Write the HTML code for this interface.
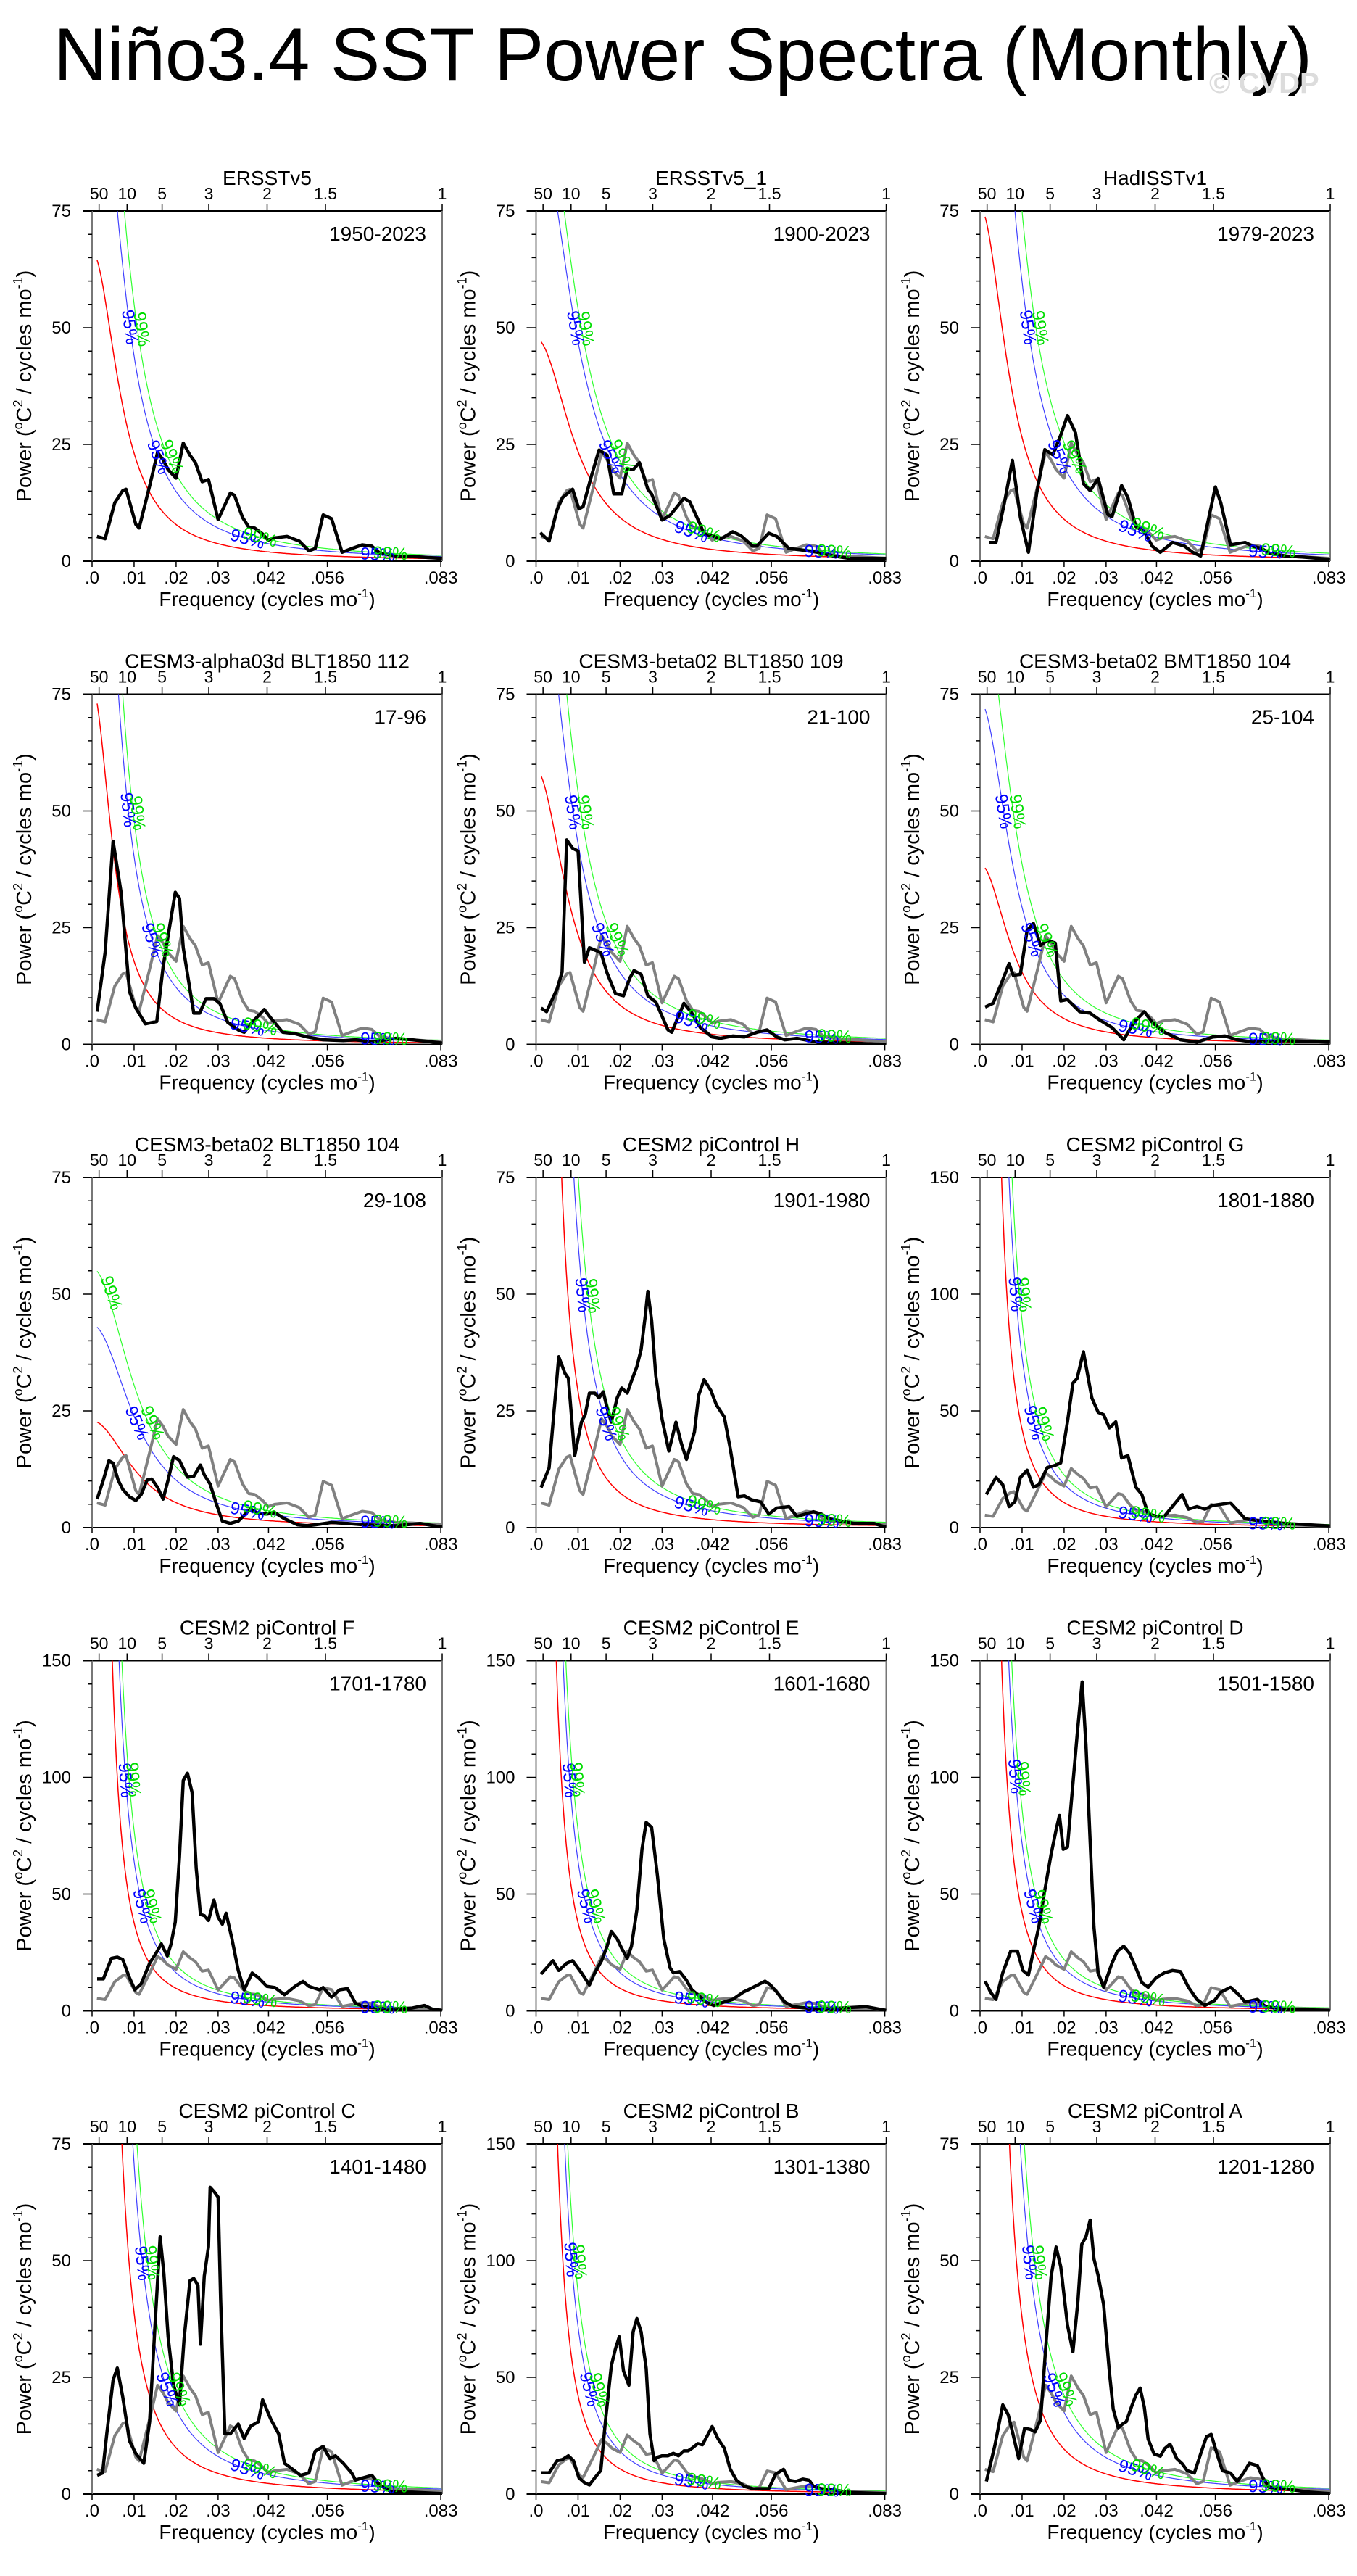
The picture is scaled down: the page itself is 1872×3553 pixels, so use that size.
<!DOCTYPE html>
<html><head><meta charset="utf-8"><title>Niño3.4 SST Power Spectra</title>
<style>
html,body{margin:0;padding:0;background:#fff;}
svg{display:block;font-family:"Liberation Sans",Arial,sans-serif;}
</style></head>
<body>
<svg id="chart" xmlns="http://www.w3.org/2000/svg" width="1872" height="3553" viewBox="0 0 1872 3553">
<rect x="0" y="0" width="1872" height="3553" fill="#fff"/>
<text x="74" y="111" font-size="104" textLength="1736" lengthAdjust="spacingAndGlyphs" fill="#000">Niño3.4 SST Power Spectra (Monthly)</text>
<text x="1668" y="128" font-size="40" font-weight="bold" fill="#dcdcdc">© CVDP</text>
</svg>
<script>
// ---- data arrays (frequency in cycles/month, power in °C²/cycles mo⁻¹) ----
const p1Freq=[.00115,.0031,.0054,.0073,.0081,.0104,.0112,.0137,.0156,.0169,.0181,.0200,.0217,.0233,.0246,.0262,.0277,.0300,.0329,.0339,.0358,.0373,.0387,.0406,.0419,.0435,.0464,.0493,.0516,.0531,.0550,.0570,.0595,.0618,.0643,.0666,.0685,.0723,.0762,.0833];
const p1Power=[5.3,4.8,12.5,15.1,15.4,7.9,7.1,16.1,23.3,21.7,19.6,17.8,25.3,22.7,21.1,17.0,17.5,8.9,14.6,14.1,9.4,7.3,7.1,5.8,4.5,5.0,5.3,4.3,2.2,2.7,9.9,9.1,1.9,2.7,3.5,3.2,1.7,1.1,1.0,0.6];
const p2Freq=[.001,.0031,.005,.0063,.0087,.0102,.0112,.0131,.015,.0169,.0185,.0204,.0217,.0231,.0246,.0266,.0275,.03,.0319,.0352,.0366,.0391,.04,.0419,.0439,.0468,.0487,.0516,.0525,.0554,.0573,.0602,.0631,.067,.0708,.0746,.0833];
const p2Power=[6.1,4.3,11.0,13.6,15.4,11.2,11.7,18.0,23.8,22.7,14.4,14.4,19.8,19.6,21.1,15.4,14.4,8.8,9.8,13.5,12.7,7.8,5.8,5.5,4.7,6.3,5.5,3.2,3.2,6.0,5.3,2.7,2.4,1.9,1.1,0.6,0.6];
const p3Freq=[.0021,.0038,.0058,.0077,.0096,.0115,.0135,.0154,.0173,.0192,.0208,.0227,.0246,.0262,.0281,.0304,.0314,.0337,.0352,.0371,.0391,.041,.0429,.0458,.0487,.0506,.0525,.056,.0573,.0596,.0631,.065,.067,.0689,.0727,.0766,.0833];
const p3Power=[4.0,4.0,12.5,21.6,9.4,1.9,14.6,23.9,22.8,27.0,31.2,27.5,16.6,15.1,17.7,10.0,9.5,16.2,13.6,7.4,6.3,3.2,1.9,4.0,3.2,1.9,1.1,15.9,12.5,3.5,4.0,3.2,2.7,1.7,1.1,0.9,0.4];
const p4Freq=[.0012,.0031,.005,.0069,.0089,.0104,.0127,.0154,.0169,.0185,.0198,.0208,.0217,.0242,.0256,.0271,.029,.0304,.0323,.0348,.0362,.0381,.041,.0425,.0454,.0483,.0512,.055,.0598,.0627,.0666,.0723,.0762,.0833];
const p4Power=[7.0,19.7,43.5,32.6,11.3,7.8,4.4,4.9,16.6,25.4,32.6,31.3,20.7,6.7,6.7,9.8,9.8,8.8,4.7,3.1,2.6,4.7,7.5,5.7,2.6,2.3,1.6,1.0,0.8,1.0,0.5,1.3,1.0,0.3];
const p5Freq=[.0012,.0025,.005,.0062,.0073,.0087,.01,.0115,.0127,.014,.0154,.0169,.0189,.0208,.0223,.0233,.025,.0266,.0285,.0314,.0323,.0352,.0371,.0391,.0419,.0439,.0468,.0496,.0525,.055,.0573,.0592,.0621,.067,.0746,.0833];
const p5Power=[7.8,7.0,11.9,15.5,43.8,42.0,41.4,17.6,20.7,20.2,19.7,15.3,10.9,10.4,14.2,15.8,15.0,10.4,9.1,3.1,2.6,8.8,6.7,3.6,1.6,1.3,1.8,1.6,2.6,3.1,1.6,1.0,1.3,0.5,0.3,0.0];
const p6Freq=[.0012,.0031,.005,.0069,.0079,.0096,.0112,.0127,.0144,.016,.0179,.0192,.0208,.0237,.0262,.0285,.0314,.0342,.0366,.0391,.041,.0439,.0477,.0516,.0554,.0583,.0612,.065,.0727,.0833];
const p6Power=[8.0,8.8,12.9,17.3,14.8,15.0,24.4,25.9,21.2,22.3,21.7,9.3,9.6,7.0,6.7,5.2,3.6,1.0,4.7,7.0,4.7,2.6,1.0,0.5,1.6,1.8,1.0,0.5,0.8,0.5];
const p7Freq=[.0012,.0027,.004,.005,.0062,.0073,.0089,.0104,.0117,.0131,.0142,.0156,.0169,.0181,.0194,.0208,.0227,.0242,.0258,.0267,.0281,.0296,.031,.0329,.0348,.0377,.0392,.0416,.0435,.0458,.0489,.0512,.0531,.057,.0608,.0646,.0723,.0781,.0833];
const p7Power=[6.1,10.2,14.3,13.8,10.2,8.2,6.6,5.8,7.1,10.2,10.4,8.6,6.1,10.2,15.2,14.4,10.8,11.0,13.4,11.3,9.3,5.0,1.4,0.9,1.4,4.0,3.2,2.9,3.2,1.9,0.6,0.4,0.6,1.1,0.9,0.6,0.4,0.9,0.1];
const p8Freq=[.0012,.0031,.0054,.0069,.0077,.0092,.0108,.0117,.0127,.014,.015,.016,.0169,.0179,.0193,.0204,.0217,.0227,.024,.025,.026,.0266,.0275,.0285,.03,.0316,.0333,.0346,.0358,.0377,.0387,.04,.0416,.0429,.0448,.0462,.0481,.0496,.0512,.0535,.0554,.0573,.0602,.0621,.0641,.066,.0679,.0698,.0727,.0756,.0804,.0833];
const p8Power=[8.6,12.8,36.6,33.0,32.0,15.4,22.6,24.2,28.8,28.8,27.8,29.1,25.6,22.6,27.8,29.9,28.8,31.4,34.5,38.1,45.4,50.6,44.4,32.5,23.2,16.4,22.6,18.0,14.6,20.5,28.3,31.7,29.4,26.3,23.7,17.0,6.6,6.8,6.0,5.5,2.9,4.2,4.5,2.4,2.9,3.4,2.9,1.9,1.4,0.9,0.9,0.1];
const p9Freq=[.0015,.0038,.0054,.0069,.0083,.0096,.0112,.0127,.014,.016,.0179,.0192,.0208,.0221,.0231,.0246,.0266,.0281,.0294,.0308,.0323,.0337,.0352,.0371,.0385,.04,.0419,.0439,.0462,.0481,.0496,.0516,.0535,.0554,.0596,.0612,.0631,.067,.0727,.0833];
const p9Power=[14.2,21.5,18.4,9.0,11.1,21.5,24.6,17.3,18.4,25.7,26.7,27.7,45.3,61.9,63.9,75.3,55.6,49.4,48.4,42.7,45.3,29.8,30.8,17.3,14.2,5.9,4.9,4.9,10.0,14.2,7.9,9.0,7.9,9.5,10.6,7.5,3.8,2.8,1.8,0.7];
const p10Freq=[.0012,.0027,.0046,.006,.0073,.0089,.0102,.0117,.0137,.0152,.0165,.0179,.0188,.0198,.0208,.0217,.0227,.0238,.0248,.0258,.0267,.0277,.029,.03,.031,.0319,.0333,.0348,.0362,.0381,.0396,.0416,.0435,.0458,.0483,.0502,.0516,.0541,.055,.057,.0589,.0608,.0627,.0646,.0704,.0762,.0791,.081,.0833];
const p10Power=[13.7,13.7,22.5,23.0,22.0,14.2,9.0,11.6,20.4,24.6,28.7,23.5,28.7,38.1,66.1,98.7,101.8,93.5,61.0,41.3,40.8,38.7,47.5,40.2,37.1,41.8,30.8,17.3,9.0,16.2,14.2,10.5,10.0,6.9,10.5,12.6,10.5,9.0,10.0,5.9,9.0,9.5,3.3,1.8,0.7,1.2,2.3,0.7,0.2];
const p11Freq=[.0012,.0025,.004,.0054,.0073,.0087,.0108,.0127,.014,.0156,.0169,.0179,.0193,.0204,.0217,.0227,.024,.0252,.0262,.0275,.0289,.0304,.0319,.0327,.0342,.0358,.0371,.0385,.0404,.0423,.0439,.0468,.0493,.0516,.0545,.0558,.0573,.0592,.0612,.067,.0727,.0785,.0833];
const p11Power=[15.8,18.4,21.5,17.3,20.4,21.5,16.3,11.1,16.3,21.5,27.7,34.0,30.8,26.7,22.5,27.7,43.3,69.2,80.7,78.6,57.8,30.8,18.4,16.3,16.8,13.1,9.0,6.9,3.8,2.3,3.3,4.9,8.0,10.0,12.7,11.1,8.0,3.8,1.8,0.7,1.2,1.8,0.2];
const p12Freq=[.0012,.0025,.0038,.0054,.0073,.0089,.0102,.0115,.0127,.014,.0154,.0169,.0181,.0189,.0198,.0208,.0219,.0231,.0243,.0252,.0262,.0271,.0281,.0294,.0314,.0327,.0342,.0356,.0371,.0385,.04,.0419,.0439,.0458,.0477,.0496,.0516,.0535,.0558,.0573,.0596,.0616,.0631,.066,.0679,.0727,.0833];
const p12Power=[12.7,8.0,4.9,16.3,25.6,25.6,17.3,15.3,25.6,36.0,51.6,67.1,77.5,83.7,69.2,70.2,93.1,118.1,140.9,113.9,72.3,36.0,16.3,10.1,20.4,25.6,27.7,24.6,18.4,12.1,10.1,14.2,16.3,17.3,16.8,10.1,4.9,2.3,4.4,8.0,10.1,6.9,3.8,4.9,1.8,0.7,0.2];
const p13Freq=[.0012,.0025,.0035,.005,.006,.0073,.0089,.0104,.0123,.0137,.015,.0162,.0171,.0181,.0194,.0208,.0219,.0233,.0242,.0252,.0258,.0267,.0277,.0281,.0291,.03,.0306,.0316,.0329,.0348,.0362,.0377,.0396,.0406,.0425,.0444,.0458,.0473,.0496,.0516,.0531,.055,.0566,.0579,.0598,.0618,.0627,.0646,.0666,.0685,.0714,.0762,.0833];
const p13Power=[4.0,4.5,12.9,24.4,27.0,20.8,11.4,8.7,6.6,15.5,36.3,55.1,47.2,33.7,23.3,19.1,33.2,45.7,46.2,44.7,32.1,46.7,53.0,65.7,64.7,63.6,41.5,12.9,12.9,15.0,11.9,14.5,15.5,20.2,16.1,12.9,6.6,5.6,4.0,4.5,9.2,10.2,7.6,8.2,6.6,4.5,3.0,3.5,4.0,1.9,0.4,0.4,0.1];
const p14Freq=[.0012,.0031,.005,.0063,.0077,.0089,.0102,.0115,.0127,.014,.0154,.0165,.0179,.0189,.0198,.0208,.0221,.0231,.024,.025,.0262,.0271,.0281,.0289,.03,.0314,.0327,.0339,.0352,.0362,.0371,.0385,.0396,.041,.0419,.0433,.0448,.0462,.0477,.0496,.0516,.0554,.057,.0589,.0602,.0618,.0635,.065,.066,.0679,.0708,.0746,.0833];
const p14Power=[9.1,9.1,14.3,14.8,16.4,14.3,7.0,4.9,3.9,7.0,10.1,30.9,54.9,62.2,67.4,52.8,46.6,69.5,75.2,69.5,53.9,25.8,14.3,15.8,16.4,16.4,17.5,16.4,18.5,18.5,19.6,21.6,21.1,25.8,28.9,23.7,19.6,10.7,5.9,3.3,2.3,2.3,8.5,10.6,5.9,5.4,6.4,5.9,3.3,2.3,1.8,0.7,0.2];
const p15Freq=[.0015,.0035,.0054,.0067,.0077,.0092,.0106,.0121,.0131,.0144,.0156,.0169,.0181,.0192,.0208,.0221,.0233,.0242,.0252,.0262,.0271,.0281,.0294,.0308,.0317,.0329,.0339,.0348,.0362,.0371,.0381,.0391,.04,.0414,.0429,.0439,.0452,.0468,.0481,.0493,.051,.0525,.0539,.055,.0564,.0577,.0596,.0612,.0627,.0641,.066,.0673,.0689,.0727,.0785,.0833];
const p15Power=[2.7,10.3,19.1,17.0,13.4,7.6,14.1,13.8,13.3,15.9,31.0,46.6,52.9,48.7,36.2,30.5,41.5,53.5,55.1,58.7,50.4,46.8,40.6,26.0,18.2,14.2,15.0,15.5,19.1,21.2,22.7,18.6,11.8,8.6,8.1,9.7,10.7,7.6,6.5,5.0,4.5,8.6,12.3,12.8,8.6,5.0,4.5,2.7,4.5,6.6,6.1,3.5,1.4,1.1,0.4,0.1];
// reference (gray) spectrum: ERSSTv5 1950-2023
const refFreq=p1Freq;
const refPower=p1Power;

const panelTitles=["ERSSTv5","ERSSTv5_1","HadISSTv1","CESM3-alpha03d BLT1850 112","CESM3-beta02 BLT1850 109","CESM3-beta02 BMT1850 104","CESM3-beta02 BLT1850 104","CESM2 piControl H","CESM2 piControl G","CESM2 piControl F","CESM2 piControl E","CESM2 piControl D","CESM2 piControl C","CESM2 piControl B","CESM2 piControl A"];
const periodLabels=["1950-2023","1900-2023","1979-2023","17-96","21-100","25-104","29-108","1901-1980","1801-1880","1701-1780","1601-1680","1501-1580","1401-1480","1301-1380","1201-1280"];
const yMaxes=[75,75,75,75,75,75,75,75,150,150,150,150,75,150,75];
// red-noise (AR1) parameters and significance multipliers per panel
const redRho=[.955,.94,.955,.966,.95,.95,.933,.99,.99,.99,.99,.99,.99,.99,.99];
const redRefFreq=[.00115,.001,.0021,.0012,.0012,.0012,.0012,.013,.015,.015,.015,.015,.015,.015,.015];
const redRefPower=[64.6,47.2,70,73,57.5,37.8,22.6,17.4,19,17,17,19,17.5,19,17];
const sig95=[1.9,2.0,2.26,2.26,1.83,1.9,1.9,2.1,1.73,1.7,1.7,1.7,1.82,1.7,1.82];
const sig99=[2.38,2.3,2.83,2.7,2.3,2.5,2.43,2.6,2.1,2.05,2.05,2.05,2.2,2.05,2.2];
const xTickVals=[0,.01,.02,.03,.042,.056,.083];
const xTickLabels=[".0",".01",".02",".03",".042",".056",".083"];
const periodTickYears=[50,10,5,3,2,1.5,1];
const periodTickLabels=["50","10","5","3","2","1.5","1"];

const series=[[p1Freq,p1Power],[p2Freq,p2Power],[p3Freq,p3Power],[p4Freq,p4Power],[p5Freq,p5Power],[p6Freq,p6Power],[p7Freq,p7Power],[p8Freq,p8Power],[p9Freq,p9Power],[p10Freq,p10Power],[p11Freq,p11Power],[p12Freq,p12Power],[p13Freq,p13Power],[p14Freq,p14Power],[p15Freq,p15Power]];

const NS="http://www.w3.org/2000/svg";
const svg=document.getElementById('chart');
const PW=483, PH=483, FMAX=0.08333;
function mk(parent,tag,attrs,text){const e=document.createElementNS(NS,tag);for(const k in attrs)e.setAttribute(k,attrs[k]);if(text!==undefined)e.textContent=text;parent.appendChild(e);return e;}
function dAR(f,r){return 1-2*r*Math.cos(2*Math.PI*f)+r*r;}

for(let p=0;p<15;p++){
  const row=Math.floor(p/3), col=p%3;
  const x0=127+612.5*col, top=291+666.5*row, bot=top+PH, right=x0+PW;
  const ymax=yMaxes[p];
  const xs=f=>x0+f/FMAX*PW;
  const ys=v=>bot-v/ymax*PH;
  const g=mk(svg,'g',{});
  
  
  const cid='clip'+p;
  const cp=mk(g,'clipPath',{id:cid});
  mk(cp,'rect',{x:x0,y:top,width:PW,height:PH});
  // title
  const t=mk(g,'text',{x:x0+PW/2,y:top-36,'font-size':28,'text-anchor':'middle'},panelTitles[p]);
  
  
  const pl=mk(g,'text',{x:x0+461,y:top+41,'font-size':28,'text-anchor':'end'},periodLabels[p]);
  
  
  // frame
  const fr=mk(g,'path',{d:`M${x0-13},${top}H${right}M${x0-13},${bot}H${right}`,stroke:'#000','stroke-width':2,fill:'none'});
  
  
  const sides=mk(g,'path',{d:`M${x0},${top}V${bot}M${right},${top}V${bot}`,stroke:'#777','stroke-width':2,fill:'none'});
  
  
  // y ticks
  const minorStep=ymax===75?5:10, majorStep=ymax===75?25:50;
  let yd='';
  for(let v=0;v<=ymax;v+=minorStep){const y=ys(v);yd+=`M${x0-(v%majorStep===0?13:6)},${y}H${x0}`;}
  const yt=mk(g,'path',{d:yd,stroke:'#000','stroke-width':1.5});
  
  
  for(let v=0;v<=ymax;v+=majorStep){
    const l=mk(g,'text',{x:x0-29,y:ys(v)+8,'font-size':24,'text-anchor':'end'},String(v));
    
    
  }
  // x ticks bottom
  let xd='';
  xTickVals.forEach((f,i)=>{const x=xs(f);xd+=`M${x},${bot}V${bot+8}`;
    const l=mk(g,'text',{x:x,y:bot+31,'font-size':24,'text-anchor':'middle'},xTickLabels[i]);
    
    
  });
  const xt=mk(g,'path',{d:xd,stroke:'#000','stroke-width':1.5});
  
  
  // top period ticks
  let td='';
  periodTickYears.forEach((yr,i)=>{const x=xs(1/(12*yr));td+=`M${x},${top}V${top-10}`;
    const l=mk(g,'text',{x:x,y:top-16,'font-size':23,'text-anchor':'middle'},periodTickLabels[i]);
    
    
  });
  const tt=mk(g,'path',{d:td,stroke:'#000','stroke-width':1.5});
  
  
  // axis titles
  const xtit=mk(g,'text',{x:x0+PW/2,y:bot+62,'font-size':28,'text-anchor':'middle'});
  
  
  xtit.innerHTML='Frequency (cycles mo<tspan font-size="17" dy="-12">-1</tspan><tspan dy="12">)</tspan>';
  const cy=(top+bot)/2, cx=x0-84;
  const ytit=mk(g,'text',{x:cx,y:cy,'font-size':29,'text-anchor':'middle',transform:`rotate(-90 ${cx} ${cy})`});
  
  
  ytit.innerHTML='Power (<tspan font-size="18" dy="-12">o</tspan><tspan dy="12">C</tspan><tspan font-size="18" dy="-12">2</tspan><tspan dy="12"> / cycles mo</tspan><tspan font-size="18" dy="-12">-1</tspan><tspan dy="12">)</tspan>';
  // curves
  const cg=mk(g,'g',{'clip-path':`url(#${cid})`});
  
  
  const rho=redRho[p], rf=redRefFreq[p], rp=redRefPower[p];
  const red=f=>rp*dAR(rf,rho)/dAR(f,rho);
  const curve=(k)=>{let d='';for(let f=0.0012;f<=FMAX+1e-6;f+=0.0002){const v=red(f)*k;d+=(d?'L':'M')+xs(f).toFixed(1)+','+Math.max(ys(v),top-400).toFixed(1);}return d;};
  const rl=mk(cg,'path',{d:curve(1),stroke:'#ff0000','stroke-width':1.5,fill:'none'});
  
  
  const bl=mk(cg,'path',{d:curve(sig95[p]),stroke:'#4040ff','stroke-width':1.2,fill:'none'});
  
  
  const gl=mk(cg,'path',{d:curve(sig99[p]),stroke:'#30ff30','stroke-width':1.2,fill:'none'});
  
  
  // gray reference
  if(p>0){
    const gd=refFreq.map((f,i)=>(i?'L':'M')+xs(f).toFixed(1)+','+ys(refPower[i]).toFixed(1)).join('');
    const gr=mk(cg,'path',{d:gd,stroke:'#808080','stroke-width':4,fill:'none','stroke-linejoin':'round'});
    
    
  }
  const [fa,pa]=series[p];
  const bd=fa.map((f,i)=>(i?'L':'M')+xs(f).toFixed(1)+','+ys(pa[i]).toFixed(1)).join('');
  const bk=mk(cg,'path',{d:bd,stroke:'#000','stroke-width':4.5,fill:'none','stroke-linejoin':'round'});
  
  
  // significance labels
  const labelAt=(k,f,txt,col,dx)=>{
    const x=xs(f)+dx, y=ys(red(f)*k);
    const x1=xs(f-0.0005),y1=ys(red(f-0.0005)*k),x2=xs(f+0.0005),y2=ys(red(f+0.0005)*k);
    const ang=Math.atan2(y2-y1,x2-x1)*180/Math.PI;
    const l=mk(g,'text',{x:x,y:y+8,'font-size':24,fill:col,'text-anchor':'middle',transform:`rotate(${ang.toFixed(1)} ${x} ${y})`},txt);
    
    
  };
  const findF=(k,target)=>{for(let f=0.0012;f<0.08;f+=0.0001){if(red(f)*k<=target)return f;}return 0.0012;};
  [[sig95[p],'95%','#0000ff',0,.037,.068],[sig99[p],'99%','#00dd00',6,.040,.071]].forEach(([k,txt,col,dx,fa1,fa2])=>{
    const fu=findF(k,ymax*0.67); if(red(0.0012)*k>ymax*0.67) labelAt(k,fu,txt,col,dx);
    labelAt(k,findF(k,ymax*0.3),txt,col,dx);
    labelAt(k,fa1,txt,col,0);
    labelAt(k,fa2,txt,col,0);
  });
}
</script>
</body></html>
